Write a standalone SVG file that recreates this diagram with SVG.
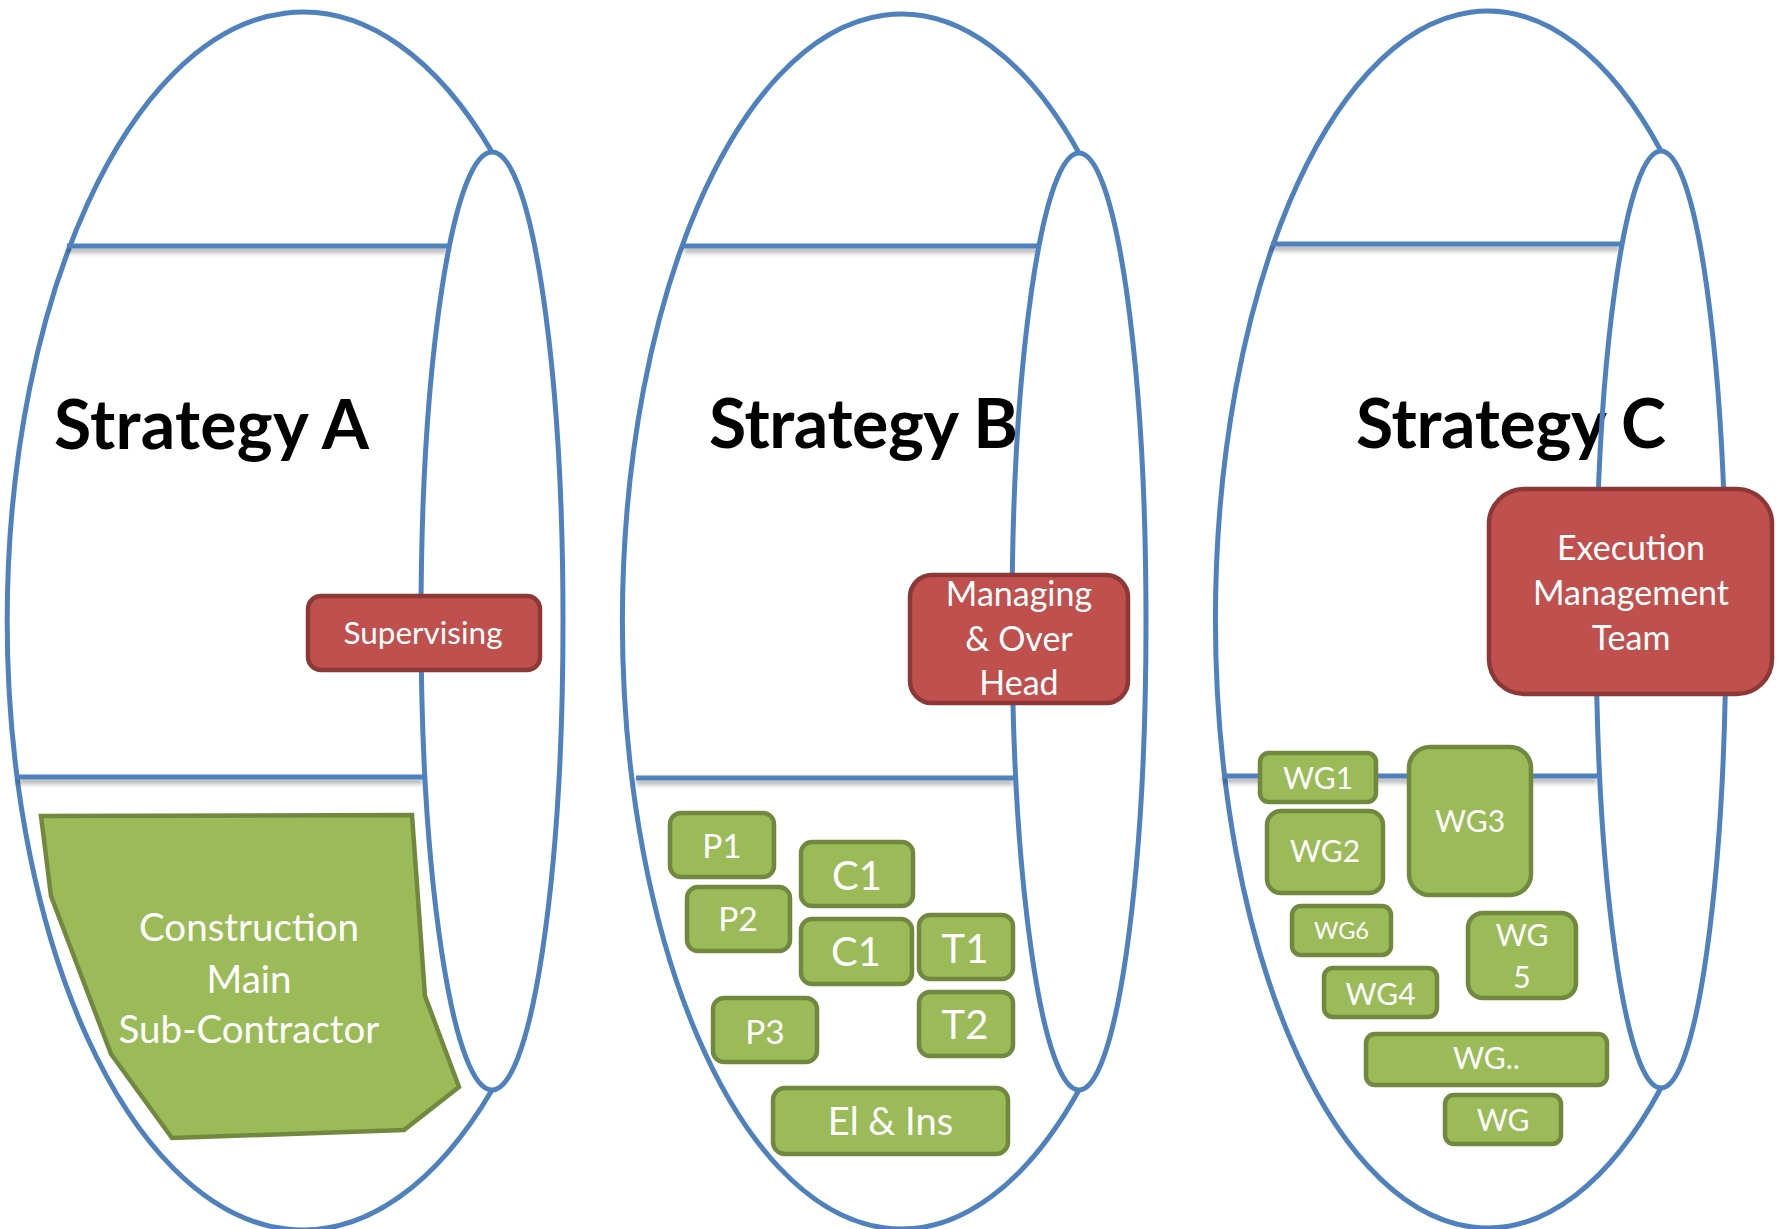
<svg xmlns="http://www.w3.org/2000/svg" width="1783" height="1229" viewBox="0 0 1783 1229">
<defs>
<filter id="sh" filterUnits="userSpaceOnUse" x="0" y="0" width="1783" height="1229">
<feDropShadow dx="0" dy="4" stdDeviation="2.5" flood-color="#000" flood-opacity="0.35"/>
</filter>
<style>
.arc{fill:none;stroke:#4F81BD;stroke-width:5}
.cap{fill:none;stroke:#4F81BD;stroke-width:5}
.ln{stroke:#4F81BD;stroke-width:5;filter:url(#sh)}
.title{font-family:Lato,"Liberation Sans",sans-serif;font-weight:bold;font-size:68px;fill:#000;text-anchor:middle}
.red{fill:#C0504D;stroke:#8C3836;stroke-width:4.5}
.grn{fill:#9BBB59;stroke:#71893F;stroke-width:4.5}
.t{font-family:Lato,"Liberation Sans",sans-serif;fill:#fff;text-anchor:middle}
</style>
</defs>
<rect width="1783" height="1229" fill="#fff"/>

<g id="frames">
<path class="arc" d="M492,152 A296,609 0 1 0 492,1090"/>
<path class="arc" d="M1079,153 A279,607.5 0 1 0 1079,1090"/>
<path class="arc" d="M1661,151 A272,608.5 0 1 0 1661,1088"/>
</g>

<g id="connectors">
<line class="ln" x1="67" y1="246" x2="448" y2="246"/>
<line class="ln" x1="17" y1="777" x2="423" y2="777"/>
<line class="ln" x1="684" y1="246" x2="1039" y2="246"/>
<line class="ln" x1="636" y1="778" x2="1014" y2="778"/>
<line class="ln" x1="1271" y1="244" x2="1620" y2="244"/>
<line class="ln" x1="1222" y1="776" x2="1597" y2="776"/>
</g>

<g id="titles">
<text class="title" x="211.5" y="449" textLength="315">Strategy A</text>
<text class="title" x="863.5" y="448" textLength="309">Strategy B</text>
<text class="title" x="1511" y="448" textLength="310">Strategy C</text>
</g>

<g id="caps">
<ellipse class="cap" cx="492" cy="621" rx="71" ry="469"/>
<ellipse class="cap" cx="1079" cy="621.5" rx="67" ry="468.5"/>
<ellipse class="cap" cx="1661" cy="619.5" rx="65" ry="468.5"/>
</g>

<g id="supervising">
<rect class="red" x="308" y="596" width="232" height="74" rx="13"/>
<text class="t" x="423" y="644" font-size="31.5">Supervising</text>
</g>
<g id="construction">
<polygon class="grn" points="41,816 412,815 425,996 459,1087 404,1130 172,1138 111,1054 51,896"/>
<text class="t" font-size="38.5"><tspan x="249" y="941">Construction</tspan><tspan x="249" y="993">Main</tspan><tspan x="249" y="1043">Sub-Contractor</tspan></text>
</g>

<g id="managing">
<rect class="red" x="910" y="575" width="218" height="128" rx="22"/>
<text class="t" font-size="34"><tspan x="1019" y="606">Managing</tspan><tspan x="1019" y="651">&amp; Over</tspan><tspan x="1019" y="695">Head</tspan></text>
</g>
<g id="p1"><rect class="grn" x="670" y="813" width="104" height="64" rx="11"/><text class="t" x="722" y="858" font-size="33.5">P1</text></g>
<g id="c1a"><rect class="grn" x="801" y="842" width="112" height="64" rx="11"/><text class="t" x="857" y="890" font-size="40">C1</text></g>
<g id="p2"><rect class="grn" x="687" y="887" width="103" height="64" rx="11"/><text class="t" x="738" y="931" font-size="33.5">P2</text></g>
<g id="c1b"><rect class="grn" x="801" y="919" width="111" height="65" rx="11"/><text class="t" x="856" y="966" font-size="40">C1</text></g>
<g id="t1"><rect class="grn" x="919" y="915" width="94" height="64" rx="11"/><text class="t" x="965" y="963" font-size="40">T1</text></g>
<g id="p3"><rect class="grn" x="713" y="998" width="104" height="64" rx="11"/><text class="t" x="765" y="1044" font-size="33.5">P3</text></g>
<g id="t2"><rect class="grn" x="919" y="992" width="94" height="64" rx="11"/><text class="t" x="965" y="1039" font-size="40">T2</text></g>
<g id="elins"><rect class="grn" x="773" y="1088" width="235" height="66" rx="12"/><text class="t" x="890.5" y="1135" font-size="38">El &amp; Ins</text></g>

<g id="execution">
<rect class="red" x="1489" y="489" width="283" height="205" rx="35"/>
<text class="t" font-size="34"><tspan x="1631" y="560">Execution</tspan><tspan x="1631" y="605">Management</tspan><tspan x="1631" y="650">Team</tspan></text>
</g>
<g id="wg1"><rect class="grn" x="1260" y="753" width="116" height="49" rx="9"/><text class="t" x="1318" y="789" font-size="30">WG1</text></g>
<g id="wg3"><rect class="grn" x="1409" y="747" width="122" height="148" rx="21"/><text class="t" x="1470" y="832" font-size="30">WG3</text></g>
<g id="wg2"><rect class="grn" x="1267" y="811" width="116" height="82" rx="14"/><text class="t" x="1325" y="862" font-size="30">WG2</text></g>
<g id="wg6"><rect class="grn" x="1292" y="906" width="99" height="49" rx="9"/><text class="t" x="1341.5" y="939" font-size="23.5">WG6</text></g>
<g id="wg5"><rect class="grn" x="1468" y="913" width="108" height="85" rx="15"/><text class="t" font-size="30"><tspan x="1522" y="946">WG</tspan><tspan x="1522" y="988">5</tspan></text></g>
<g id="wg4"><rect class="grn" x="1324" y="968" width="113" height="49" rx="9"/><text class="t" x="1380.5" y="1005" font-size="30">WG4</text></g>
<g id="wgdots"><rect class="grn" x="1366" y="1034" width="241" height="51" rx="9"/><text class="t" x="1486.5" y="1069" font-size="30">WG..</text></g>
<g id="wg"><rect class="grn" x="1445" y="1095" width="116" height="49" rx="9"/><text class="t" x="1503" y="1131" font-size="30">WG</text></g>
</svg>
